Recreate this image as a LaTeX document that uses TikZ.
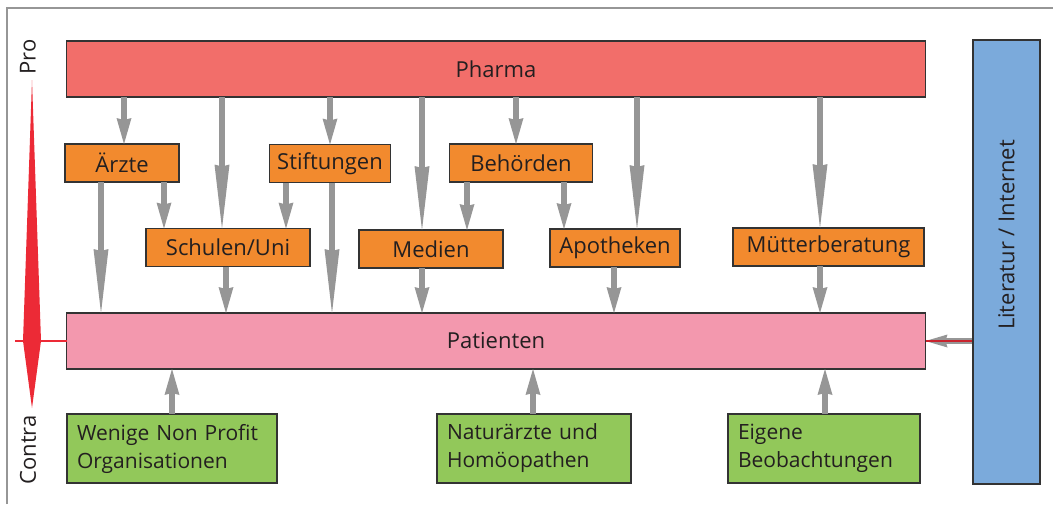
\documentclass[tikz,border=0pt]{standalone}
\usepackage{fontspec}
\setmainfont{Open Sans}
\usetikzlibrary{arrows.meta,backgrounds}

\definecolor{pharmarot}{RGB}{242,110,106}
\definecolor{patientrosa}{RGB}{243,152,174}
\definecolor{mittelorange}{RGB}{242,138,46}
\definecolor{nprgruen}{RGB}{146,200,90}
\definecolor{litblau}{RGB}{123,170,219}
\definecolor{pfeilgrau}{RGB}{150,150,150}
\definecolor{achsrot}{RGB}{236,42,54}
\definecolor{randgrau}{RGB}{51,51,51}
\definecolor{schrift}{RGB}{35,31,32}

\begin{document}
\begin{tikzpicture}[
  x=1pt, y=-1pt,
  font=\fontsize{22}{28}\selectfont,
  box/.style={draw=randgrau, line width=1.3pt, inner sep=0pt, outer sep=0pt, text=schrift},
  gross/.style={box, minimum width=859pt, minimum height=56pt},
  mittel/.style={box, fill=mittelorange, minimum height=38pt},
  gruen/.style={box, fill=nprgruen, minimum height=69pt, inner xsep=10pt, align=left,
    font=\fontsize{21}{28}\selectfont},
  pfeil/.style={draw=pfeilgrau, line width=6.5pt,
    -{Stealth[length=26pt,width=15pt,inset=2pt,line width=0pt]}},
  langpfeil/.style={pfeil,
    -{Stealth[length=64pt,width=15pt,inset=2pt,line width=0pt]}}
]
  \useasboundingbox (0,0) rectangle (1053,504);
  \draw[pfeilgrau, line width=1.5pt] (7,504) -- (7,8) -- (1053,8);

  \node[gross, fill=pharmarot] (pharma) at (496,69) {Pharma};
  \node[gross, fill=patientrosa] (patienten) at (496,341) {Patienten};
  \node[box, fill=litblau, line width=2.5pt, minimum width=67pt, minimum height=444pt] (literatur)
    at (1006.5,262) {\rotatebox{90}{\hspace{54pt}Literatur / Internet}};

  \node[mittel, minimum width=114pt] (aerzte) at (122,163) {Ärzte};
  \node[mittel, minimum width=121pt] (stiftungen) at (330,163.5) {Stiftungen};
  \node[mittel, minimum width=143pt] (behoerden) at (521,163) {Behörden};
  \node[mittel, minimum width=164pt] (schulen) at (228,247.5) {Schulen/Uni};
  \node[mittel, minimum width=144pt] (medien) at (431,249) {Medien};
  \node[mittel, minimum width=130pt] (apotheken) at (615,248) {Apotheken};
  \node[mittel, minimum width=191pt] (muetter) at (828.5,247) {Mütterberatung};

  \node[gruen, text width=190pt] (nonprofit) at (172,448.5) {Wenige Non Profit\\Organisationen};
  \node[gruen, text width=174pt] (natur) at (534,448.5) {Naturärzte und\\Homöopathen};
  \node[gruen, text width=172pt] (eigene) at (824,448.5) {Eigene\\Beobachtungen};

  \node[rotate=90, text=schrift] (pro) at (28,57) {Pro};
  \node[rotate=90, text=schrift] (contra) at (28,450) {Contra};
  \fill[achsrot] (32,80) -- (41,341) -- (32,408) -- (23,341) -- cycle;
  \coordinate (nullpunkt) at (15,341);

  \begin{scope}[on background layer]
    \draw[pfeil, -{Stealth[length=22pt,width=13pt,inset=2pt,line width=0pt]}]
      (literatur.west |- patienten.east) -- (patienten.east);
    \draw[achsrot!85!black, line width=2pt] (nullpunkt) -- (literatur.west |- nullpunkt);
  \end{scope}
  \draw[achsrot, line width=2pt] (nullpunkt) -- (patienten.west |- nullpunkt);

  \foreach \x/\von/\nach in {124/pharma/aerzte, 330/pharma/stiftungen, 516/pharma/behoerden,
      164/aerzte/schulen, 286/stiftungen/schulen, 467/behoerden/medien, 564/behoerden/apotheken,
      226/schulen/patienten, 422/medien/patienten, 614/apotheken/patienten, 820/muetter/patienten}
    \draw[pfeil] (\von.south -| \x,0) -- (\nach.north -| \x,0);

  \foreach \x/\von/\nach in {222/pharma/schulen, 422/pharma/medien, 637/pharma/apotheken,
      820/pharma/muetter, 101/aerzte/patienten, 332/stiftungen/patienten}
    \draw[langpfeil] (\von.south -| \x,0) -- (\nach.north -| \x,0);

  \foreach \x/\von in {172/nonprofit, 533/natur, 825/eigene}
    \draw[pfeil] (\von.north -| \x,0) -- (patienten.south -| \x,0);
\end{tikzpicture}
\end{document}
